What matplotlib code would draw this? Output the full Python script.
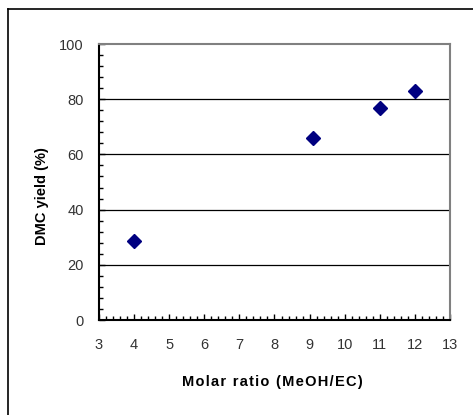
import matplotlib.pyplot as plt
from matplotlib.lines import Line2D
from matplotlib.ticker import MultipleLocator

# Molar ratio vs DMC yield
ratio = [4, 9.1, 11, 12]
yield_pct = [28.5, 66, 77, 83]

plt.rcParams['font.family'] = ['Liberation Sans', 'DejaVu Sans']

fig = plt.figure(figsize=(4.73, 4.15), dpi=100)
ax = fig.add_axes([0.2093, 0.2289, 0.742, 0.665])

ax.plot(ratio, yield_pct, linestyle='none', marker='D', markersize=7,
        color='#000080', zorder=3)

ax.set_xlim(3, 13)
ax.set_ylim(0, 100)
ax.xaxis.set_major_locator(MultipleLocator(1))
ax.xaxis.set_minor_locator(MultipleLocator(0.2))
ax.yaxis.set_major_locator(MultipleLocator(20))
ax.yaxis.set_minor_locator(MultipleLocator(4))
ax.tick_params(which='both', direction='in', top=False, right=False,
               color='black', labelsize=10.5, labelcolor='#333333')
ax.tick_params(axis='x', pad=13)
ax.tick_params(axis='y', pad=11)
ax.tick_params(which='major', length=4, width=1)
ax.tick_params(which='minor', length=3, width=1)

for v in [20, 40, 60, 80]:
    ax.axhline(v, color='black', linewidth=0.9, zorder=1)

ax.spines['left'].set_color('black')
ax.spines['bottom'].set_color('black')
ax.spines['top'].set_color('#808080')
ax.spines['right'].set_color('#808080')
for s in ax.spines.values():
    s.set_linewidth(1.5)

xlab = '\u200a'.join('Molar ratio (MeOH/EC)')
ax.set_xlabel(xlab, fontsize=10.5, fontweight='bold')
ax.xaxis.set_label_coords(0.493, -0.225)
ax.xaxis.label.set_va('center')
ax.set_ylabel('DMC yield (%)', fontsize=10.5, fontweight='bold')
ax.yaxis.set_label_coords(-0.163, 0.45)
ax.yaxis.label.set_va('center')

# outer frame
fig.add_artist(Line2D([8 / 473, 8 / 473], [0, 1 - 9 / 415], color='black',
                      linewidth=1.2, transform=fig.transFigure))
fig.add_artist(Line2D([8 / 473, 1], [1 - 9 / 415, 1 - 9 / 415], color='black',
                      linewidth=1.2, transform=fig.transFigure))

fig.savefig('out.png', dpi=100)
